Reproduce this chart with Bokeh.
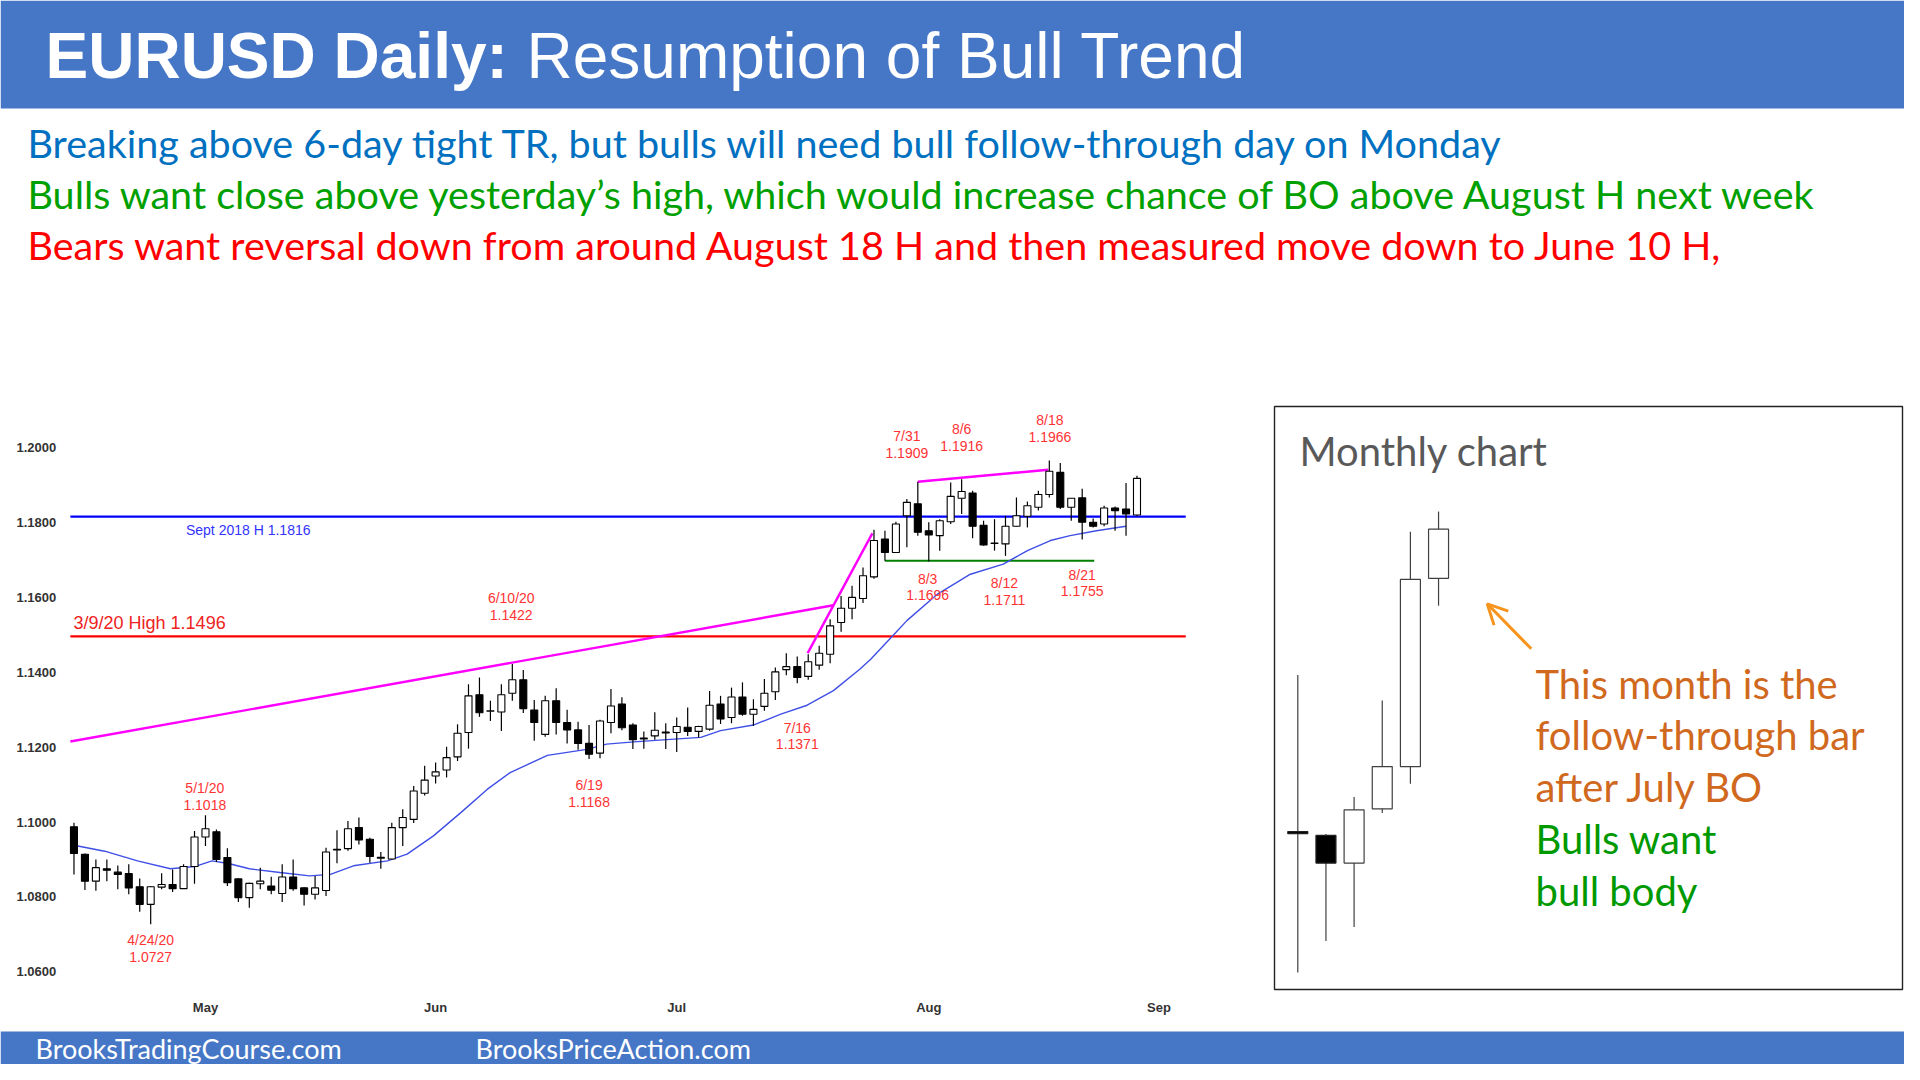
import pandas as pd
from bokeh.plotting import figure
from bokeh.models import Range1d, Arrow, OpenHead
from bokeh.core.properties import value
from bokeh.embed import file_html
from bokeh.resources import INLINE

# ---------------- data ----------------
# EURUSD daily bars, 15 Apr 2020 - 28 Aug 2020 (weekdays)
first_day, last_day = "2020-04-15", "2020-08-28"
dates = pd.bdate_range(first_day, last_day)

opens = [1.0987, 1.0914, 1.0842, 1.0875, 1.0866, 1.0862, 1.0827, 1.0780, 1.0826, 1.0833,
         1.0822, 1.0881, 1.0960, 1.0974, 1.0905, 1.0848, 1.0798, 1.0835, 1.0829, 1.0809,
         1.0853, 1.0824, 1.0807, 1.0817, 1.0925, 1.0929, 1.0985, 1.0954, 1.0903, 1.0901,
         1.0985, 1.1007, 1.1077, 1.1123, 1.1139, 1.1174, 1.1239, 1.1340, 1.1296, 1.1294,
         1.1344, 1.1380, 1.1299, 1.1234, 1.1324, 1.1266, 1.1246, 1.1210, 1.1184, 1.1266,
         1.1315, 1.1259, 1.1222, 1.1230, 1.1240, 1.1239, 1.1253, 1.1242, 1.1248, 1.1315,
         1.1279, 1.1334, 1.1288, 1.1309, 1.1348, 1.1407, 1.1415, 1.1389, 1.1419, 1.1448,
         1.1533, 1.1571, 1.1597, 1.1655, 1.1756, 1.1720, 1.1818, 1.1850, 1.1778, 1.1765,
         1.1802, 1.1865, 1.1879, 1.1793, 1.1744, 1.1743, 1.1790, 1.1817, 1.1841, 1.1875,
         1.1934, 1.1841, 1.1866, 1.1801, 1.1796, 1.1839, 1.1836, 1.1820]
highs = [1.0998, 1.0916, 1.0900, 1.0900, 1.0884, 1.0887, 1.0849, 1.0829, 1.0863, 1.0873,
         1.0887, 1.0976, 1.1018, 1.0980, 1.0930, 1.0850, 1.0838, 1.0878, 1.0854, 1.0887,
         1.0900, 1.0826, 1.0856, 1.0931, 1.0978, 1.1003, 1.1012, 1.0958, 1.0920, 1.0998,
         1.1034, 1.1096, 1.1150, 1.1159, 1.1201, 1.1261, 1.1368, 1.1386, 1.1324, 1.1368,
         1.1422, 1.1406, 1.1326, 1.1337, 1.1357, 1.1300, 1.1268, 1.1259, 1.1273, 1.1355,
         1.1333, 1.1264, 1.1242, 1.1293, 1.1264, 1.1279, 1.1306, 1.1257, 1.1350, 1.1337,
         1.1359, 1.1373, 1.1328, 1.1382, 1.1413, 1.1451, 1.1442, 1.1448, 1.1471, 1.1542,
         1.1604, 1.1631, 1.1680, 1.1781, 1.1778, 1.1802, 1.1863, 1.1909, 1.1801, 1.1809,
         1.1907, 1.1916, 1.1885, 1.1805, 1.1809, 1.1818, 1.1867, 1.1856, 1.1885, 1.1966,
         1.1959, 1.1865, 1.1890, 1.1811, 1.1845, 1.1843, 1.1906, 1.1925]
lows = [1.0860, 1.0818, 1.0816, 1.0842, 1.0820, 1.0807, 1.0760, 1.0727, 1.0820, 1.0813,
        1.0822, 1.0835, 1.0936, 1.0893, 1.0829, 1.0786, 1.0771, 1.0820, 1.0807, 1.0786,
        1.0816, 1.0777, 1.0793, 1.0802, 1.0890, 1.0923, 1.0940, 1.0891, 1.0875, 1.0900,
        1.0936, 1.0997, 1.1071, 1.1103, 1.1119, 1.1163, 1.1196, 1.1281, 1.1270, 1.1243,
        1.1324, 1.1291, 1.1217, 1.1228, 1.1234, 1.1210, 1.1193, 1.1168, 1.1170, 1.1237,
        1.1245, 1.1195, 1.1196, 1.1220, 1.1195, 1.1187, 1.1230, 1.1226, 1.1244, 1.1262,
        1.1264, 1.1284, 1.1257, 1.1297, 1.1326, 1.1392, 1.1371, 1.1380, 1.1407, 1.1424,
        1.1508, 1.1542, 1.1585, 1.1650, 1.1698, 1.1719, 1.1734, 1.1765, 1.1696, 1.1725,
        1.1796, 1.1823, 1.1758, 1.1738, 1.1725, 1.1711, 1.1789, 1.1787, 1.1832, 1.1867,
        1.1836, 1.1805, 1.1755, 1.1787, 1.1790, 1.1778, 1.1765, 1.1817]
closes = [1.0916, 1.0842, 1.0878, 1.0871, 1.0860, 1.0824, 1.0780, 1.0827, 1.0833, 1.0822,
          1.0881, 1.0960, 1.0982, 1.0900, 1.0838, 1.0798, 1.0836, 1.0842, 1.0818, 1.0853,
          1.0822, 1.0807, 1.0824, 1.0920, 1.0927, 1.0982, 1.0952, 1.0908, 1.0906, 1.0985,
          1.1012, 1.1083, 1.1112, 1.1134, 1.1172, 1.1237, 1.1337, 1.1292, 1.1297, 1.1340,
          1.1380, 1.1303, 1.1266, 1.1324, 1.1266, 1.1246, 1.1210, 1.1181, 1.1270, 1.1310,
          1.1252, 1.1220, 1.1224, 1.1245, 1.1238, 1.1255, 1.1242, 1.1255, 1.1312, 1.1275,
          1.1334, 1.1288, 1.1301, 1.1344, 1.1401, 1.1415, 1.1386, 1.1428, 1.1451, 1.1524,
          1.1571, 1.1600, 1.1658, 1.1752, 1.1720, 1.1796, 1.1854, 1.1774, 1.1767, 1.1805,
          1.1870, 1.1883, 1.1790, 1.1740, 1.1745, 1.1790, 1.1818, 1.1845, 1.1875, 1.1937,
          1.1841, 1.1865, 1.1801, 1.1790, 1.1839, 1.1832, 1.1823, 1.1918]

# 20 bar moving average, traced point by point (bar index, price)
ma_x = [0, 2.8, 5.8, 8.8, 11, 12.6, 14.1, 16, 18.8, 21.5, 23.4, 25.5, 28.6, 30.4, 32.8,
        35.3, 37.7, 39.8, 43.2, 46.8, 48.6, 51.1, 54.1, 57.2, 59, 62, 64.5, 66.9, 69.3,
        71.7, 72.7, 74.8, 76, 78.8, 81.8, 84.8, 87, 89.1, 90.9, 93.3, 96]
ma_y = [1.0938, 1.0922, 1.0896, 1.0875, 1.0881, 1.0896, 1.0889, 1.0875, 1.0865, 1.0856,
        1.0860, 1.0883, 1.0896, 1.0914, 1.0963, 1.1025, 1.1087, 1.1132, 1.1178, 1.1194,
        1.1208, 1.1214, 1.1220, 1.1226, 1.1244, 1.1259, 1.1288, 1.1312, 1.1351, 1.1408,
        1.1435, 1.1500, 1.1538, 1.1609, 1.1662, 1.1689, 1.1725, 1.1752, 1.1765, 1.1778,
        1.1790]

month_names = ["May", "Jun", "Jul", "Aug", "Sep"]
month_starts = ["2020-05-01", "2020-06-01", "2020-07-01", "2020-08-03", "2020-09-01"]
y_ticks = [1.06, 1.08, 1.10, 1.12, 1.14, 1.16, 1.18, 1.20]

sept18_high = 1.1816
mar9_high = 1.1496
aug_range_low = 1.1698
aug_range_days = ["2020-07-28", "2020-08-24"]

# trend lines drawn on the chart (bar index, price)
wedge_x, wedge_y = [-0.33, 69.3], [1.1215, 1.1579]
spike_x, spike_y = [66.95, 72.85], [1.1451, 1.1771]
top_x, top_y = [77, 88.9], [1.1909, 1.1941]

# swing labels: date text, price text, bar index, price of the first line
swing_dates = ["7/31", "8/6", "8/18", "8/3", "8/12", "8/21", "6/10/20", "6/19", "7/16", "5/1/20", "4/24/20"]
swing_prices = ["1.1909", "1.1916", "1.1966", "1.1696", "1.1711", "1.1755", "1.1422", "1.1168", "1.1371", "1.1018", "1.0727"]
swing_x = [76.0, 81.0, 89.05, 77.9, 84.9, 92.0, 39.9, 47.0, 66.0, 11.94, 7.0]
swing_y = [1.2031, 1.2050, 1.2073, 1.1650, 1.1638, 1.1661, 1.1598, 1.1098, 1.1252, 1.1091, 1.0685]

# monthly bars Mar - Aug 2020
m_open = [1.1043, 1.1032, 1.0952, 1.1109, 1.1231, 1.1775]
m_high = [1.1496, 1.1036, 1.1143, 1.1422, 1.1910, 1.1968]
m_low = [1.0636, 1.0727, 1.0767, 1.1097, 1.1181, 1.1696]
m_close = [1.1037, 1.0952, 1.1106, 1.1231, 1.1772, 1.1917]

title_bold = "EURUSD Daily:"
title_rest = "Resumption of Bull Trend"
comments = [
    ("Breaking above 6-day tight TR, but bulls will need bull follow-through day on Monday", "#0070C0"),
    ("Bulls want close above yesterday\u2019s high, which would increase chance of BO above August H next week", "#00A000"),
    ("Bears want reversal down from around August 18 H and then measured move down to June 10 H,", "#FF0000"),
]
monthly_notes = [
    ("This month is the", "#D0691E"),
    ("follow-through bar", "#D0691E"),
    ("after July BO", "#D0691E"),
    ("Bulls want", "#009900"),
    ("bull body", "#009900"),
]
footer = ["BrooksTradingCourse.com", "BrooksPriceAction.com"]

# ---------------- layout (canvas pixels) ----------------
W, H = 1904, 1064
BAR0_X, BAR_STEP = 73.47, 10.959          # x of the first bar, px per bar
PRICE_Y0, PRICE_REF, PX_PER_UNIT = 821.5, 1.10, 3743.0
MBAR0_X, MBAR_STEP = 1297.3, 28.15
MY_A, MY_B = 4652.0, 3460.0               # monthly: y = MY_A - MY_B * price


def day_pos(d):
    return len(pd.bdate_range(first_day, d)) - 1


def price_at(py):
    return PRICE_REF + (PRICE_Y0 - py) / PX_PER_UNIT


chart_left, chart_right = -0.33, 101.45

p = figure(
    width=W, height=H,
    x_range=Range1d(-BAR0_X / BAR_STEP, (W - BAR0_X) / BAR_STEP),
    y_range=Range1d(price_at(H), price_at(0)),
    x_axis_location=None, y_axis_location=None,
    toolbar_location=None, output_backend="svg", title=None,
    min_border=0,
)
p.grid.visible = False
p.outline_line_color = None
p.background_fill_color = "white"
p.border_fill_color = "white"

p.extra_x_ranges = {
    "px": Range1d(0, W),
    "mx": Range1d(-MBAR0_X / MBAR_STEP, (W - MBAR0_X) / MBAR_STEP),
}
p.extra_y_ranges = {
    "py": Range1d(H, 0),
    "my": Range1d((MY_A - H) / MY_B, MY_A / MY_B),
}
scr = dict(x_range_name="px", y_range_name="py")
mon = dict(x_range_name="mx", y_range_name="my")
CAL = value("Lato")
ARIAL = value("Liberation Sans")
BAND = "#4677C6"

# header and footer bands
p.quad(left=[0], right=[W], top=[0], bottom=[108], fill_color=BAND, line_color=None, **scr)
p.quad(left=[0], right=[W], top=[1031], bottom=[H], fill_color=BAND, line_color=None, **scr)
p.text(x=[45], y=[55], text=[title_bold], text_font=ARIAL, text_font_style="bold",
       text_font_size="64px", text_color="white", text_baseline="middle", **scr)
p.text(x=[526], y=[55], text=[title_rest], text_font=ARIAL,
       text_font_size="64px", text_color="white", text_baseline="middle", **scr)
p.text(x=[35, 475], y=[1048, 1048], text=footer, text_font=CAL, text_font_size="27px",
       text_color="white", text_baseline="middle", **scr)

# comment lines
for k, (txt, col) in enumerate(comments):
    p.text(x=[27], y=[142 + 51 * k], text=[txt], text_font=CAL, text_font_size="39.5px",
           text_color=col, text_baseline="middle", **scr)

# ---- daily chart ----
idx = list(range(len(dates)))
# horizontal levels
p.line([chart_left, chart_right], [sept18_high] * 2, line_color="#0000FF", line_width=2.2)
p.line([chart_left, chart_right], [mar9_high] * 2, line_color="#FF0000", line_width=2.2)
p.line([day_pos(aug_range_days[0]), day_pos(aug_range_days[1]) + 0.1], [aug_range_low] * 2,
       line_color="#008000", line_width=2.2)
# trend lines
for lx, ly in ((wedge_x, wedge_y), (spike_x, spike_y), (top_x, top_y)):
    p.line(lx, ly, line_color="#FF00FF", line_width=2.4)

p.line(ma_x, ma_y, line_color="#3F4FE6", line_width=1.4)

p.segment(idx, lows, idx, highs, line_color="black", line_width=1.2)
up = [i for i in idx if closes[i] >= opens[i]]
dn = [i for i in idx if closes[i] < opens[i]]
p.vbar(x=up, width=0.64, top=[closes[i] for i in up], bottom=[opens[i] for i in up],
       fill_color="white", line_color="black", line_width=1.1)
p.vbar(x=dn, width=0.64, top=[opens[i] for i in dn], bottom=[closes[i] for i in dn],
       fill_color="black", line_color="black", line_width=1.1)

# level labels
p.text(x=[15.9], y=[price_at(529)], text=["Sept 2018 H %.4f" % sept18_high], text_font=ARIAL,
       text_font_size="14px", text_color="#3333FF", text_align="center", text_baseline="middle")
p.text(x=[6.9], y=[price_at(622)], text=["3/9/20 High %.4f" % mar9_high], text_font=ARIAL,
       text_font_size="18px", text_color="#EE2222", text_align="center", text_baseline="middle")

# swing labels
line_gap = 16.7 / PX_PER_UNIT
p.text(x=swing_x, y=swing_y, text=swing_dates, text_font=ARIAL, text_font_size="14px",
       text_color="#FF3333", text_align="center", text_baseline="middle")
p.text(x=swing_x, y=[v - line_gap for v in swing_y], text=swing_prices, text_font=ARIAL,
       text_font_size="14px", text_color="#FF3333", text_align="center", text_baseline="middle")

# axis labels
tick_x = (16 - BAR0_X) / BAR_STEP
p.text(x=[tick_x] * len(y_ticks), y=y_ticks, text=["%.4f" % t for t in y_ticks], text_font=ARIAL,
       text_font_size="13px", text_font_style="bold", text_color="#333333",
       text_align="left", text_baseline="middle")
p.text(x=[day_pos(d) for d in month_starts], y=[price_at(1006.5)] * len(month_names), text=month_names,
       text_font=ARIAL, text_font_size="13px", text_font_style="bold", text_color="#333333",
       text_align="center", text_baseline="middle")

# ---- monthly inset ----
p.quad(left=[1274], right=[1902], top=[406], bottom=[989], fill_color=None,
       line_color="#222222", line_width=1.4, **scr)
p.text(x=[1299], y=[450], text=["Monthly chart"], text_font=CAL, text_font_size="40px",
       text_color="#595959", text_baseline="middle", **scr)
midx = list(range(len(m_open)))
p.segment(midx, m_low, midx, m_high, line_color="#404040", line_width=1.2, **mon)
m_up = [i for i in midx if m_close[i] >= m_open[i]]
m_dn = [i for i in midx if m_close[i] < m_open[i]]
p.vbar(x=m_up, width=0.71, top=[m_close[i] for i in m_up], bottom=[m_open[i] for i in m_up],
       fill_color="white", line_color="#404040", line_width=1.2, **mon)
p.vbar(x=m_dn, width=0.71, top=[m_open[i] for i in m_dn], bottom=[m_close[i] for i in m_dn],
       fill_color="black", line_color="#202020", line_width=1.2, **mon)

p.add_layout(Arrow(end=OpenHead(line_color="#F7941D", line_width=3, size=20),
                   x_start=1530.7, y_start=648.3, x_end=1486.7, y_end=603.3,
                   line_color="#F7941D", line_width=3, **scr))
for k, (txt, col) in enumerate(monthly_notes):
    p.text(x=[1535], y=[683 + 51.8 * k], text=[txt], text_font=CAL, text_font_size="40px",
           text_color=col, text_baseline="middle", **scr)

open("out.html", "w").write(file_html(p, INLINE))
